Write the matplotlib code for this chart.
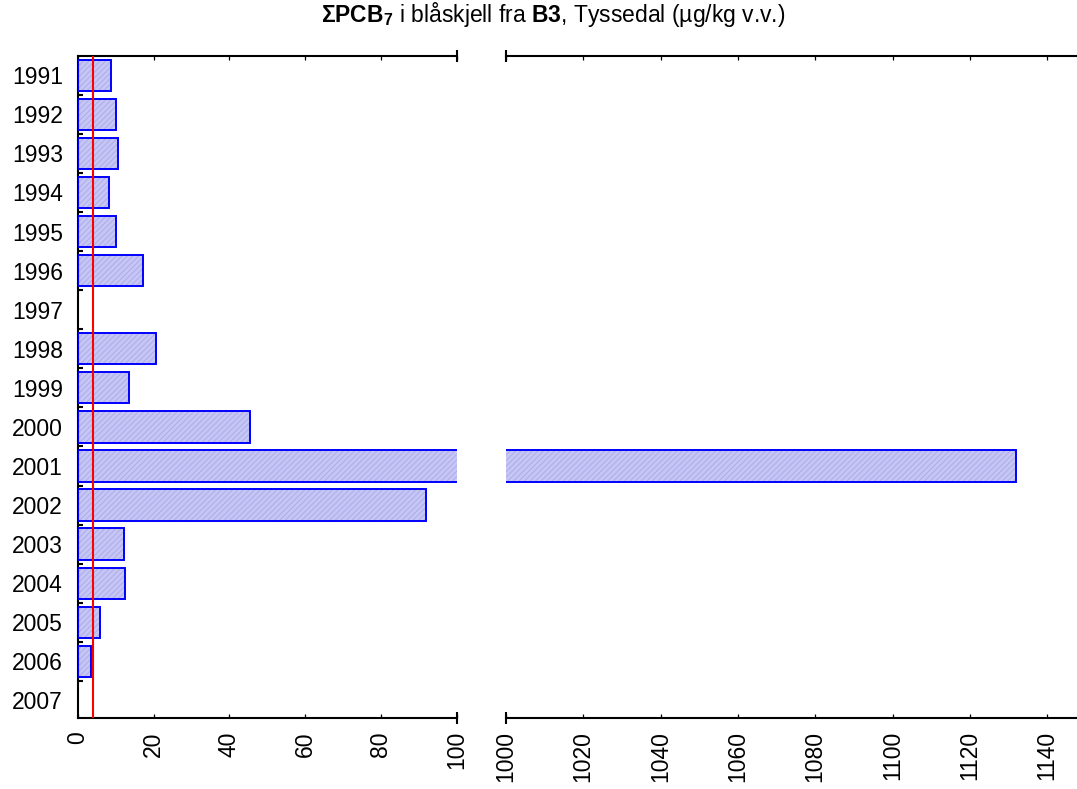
import numpy as np
import matplotlib
matplotlib.use("Agg")
import matplotlib.pyplot as plt

plt.rcParams['font.family'] = ['Liberation Sans', 'DejaVu Sans']
plt.rcParams['mathtext.fontset'] = 'custom'
plt.rcParams['mathtext.rm'] = 'Liberation Sans'
plt.rcParams['mathtext.bf'] = 'Liberation Sans:bold'
plt.rcParams['mathtext.it'] = 'Liberation Sans:italic'
plt.rcParams['hatch.linewidth'] = 0.6

# Data: sum PCB7 in blue mussel, station B3 (µg/kg wet weight)
years = ['1991', '1992', '1993', '1994', '1995', '1996', '1997', '1998', '1999',
         '2000', '2001', '2002', '2003', '2004', '2005', '2006', '2007']
values = [8.9, 10.1, 10.7, 8.3, 10.1, 17.2, np.nan, 20.6, 13.5,
          45.5, 1132.0, 91.9, 12.2, 12.5, 5.9, 3.6, np.nan]
reference_level = 4.0
left_ticks = [0, 20, 40, 60, 80, 100]
right_ticks = [1000, 1020, 1040, 1060, 1080, 1100, 1120, 1140]

W, H = 1077, 789
fig = plt.figure(figsize=(W / 100, H / 100), dpi=100)

y0 = 1 - 718 / H
y1 = 1 - 55.7 / H
ax1 = fig.add_axes([77.7 / W, y0, (456.7 - 77.7) / W, y1 - y0])
ax2 = fig.add_axes([505.9 / W, y0, (W - 505.9) / W, y1 - y0])

pos = np.arange(len(years))
vals = np.array(values, dtype=float)
mask = ~np.isnan(vals)

face = '#c6c6f6'
hatch_col = '#a9a9e4'
edge = '#0000ff'
bar_h = 0.8

for ax in (ax1, ax2):
    ax.barh(pos[mask], vals[mask], height=bar_h, color=face, edgecolor='none', zorder=1)
    ax.barh(pos[mask], vals[mask], height=bar_h, fill=False, hatch='//////',
            edgecolor=hatch_col, linewidth=0, zorder=2)
    ax.barh(pos[mask], vals[mask], height=bar_h, fill=False, edgecolor=edge,
            linewidth=1.4, zorder=3)
    ax.set_ylim(16.45, -0.5)
    for s in ax.spines.values():
        s.set_linewidth(1.5)
    ax.tick_params(axis='x', which='major', direction='in', top=True, bottom=True,
                   length=3.2, width=0.9, labelsize=16.5, pad=9.5,
                   labelrotation=90)

ax1.set_xlim(0, 100)
ax1.set_xticks(left_ticks)
ax1.set_xticklabels([str(t) for t in left_ticks])
ax1.spines['right'].set_visible(False)
ax1.axvline(reference_level, color='#ff0000', linewidth=1.5, zorder=4)

ax1.set_yticks(pos)
ax1.set_yticklabels(years)
ax1.set_yticks(pos[:-1] + 0.5, minor=True)
ax1.tick_params(axis='y', which='major', length=0, labelsize=16.5, pad=10.5)
ax1.tick_params(axis='y', which='minor', direction='in', length=3.5, width=1.5)

ax2.set_xlim(1000, 1000 + (W - 505.9) / 3.866)
ax2.set_xticks(right_ticks)
ax2.set_xticklabels([str(t) for t in right_ticks])
ax2.spines['left'].set_visible(False)
ax2.spines['right'].set_visible(False)
ax2.set_yticks([])

# end caps at the axis break
for ax, xa in ((ax1, 1.0), (ax2, 0.0)):
    ax.plot([xa, xa], [0, 1], transform=ax.transAxes, linestyle='none',
            marker='|', markersize=8, markeredgewidth=1.5, color='black',
            clip_on=False, zorder=5)

for lab in ax1.get_xticklabels() + ax2.get_xticklabels():
    lab.set_verticalalignment('top')
    lab.set_horizontalalignment('center')

fig.text(553.4 / W, 1 - 22 / H,
         r'$\mathbf{\Sigma PCB_7}$ i blåskjell fra $\mathbf{B3}$, Tyssedal (µg/kg v.v.)',
         ha='center', va='baseline', fontsize=16.5)

fig.savefig('out.png', dpi=100)
